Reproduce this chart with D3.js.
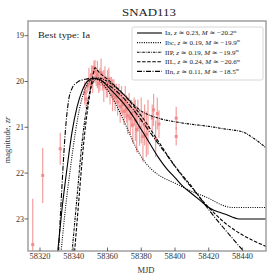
<!DOCTYPE html>
<html>
<head>
<meta charset="utf-8">
<script src="https://cdn.jsdelivr.net/npm/d3@7"></script>
<style>
  body { margin: 0; background: #fff; }
  text { font-family: "Liberation Serif", "DejaVu Serif", serif; }
</style>
</head>
<body>
<div id="chart"></div>
<script>
// observations: MJD, magnitude, error
const obsMjd = [58315.7, 58321.6, 58332.0,
  58346.5, 58347.3, 58348.0, 58349.0, 58349.8, 58350.5, 58351.2, 58352.0, 58352.6, 58353.3,
  58354.0, 58354.8, 58355.5, 58356.2, 58357.0, 58357.8, 58358.5, 58359.3, 58360.0, 58360.8,
  58361.5, 58362.3, 58363.0, 58363.8, 58364.5, 58365.3, 58366.0, 58366.8, 58367.5, 58368.3,
  58369.0, 58369.8, 58370.5, 58371.3, 58372.0, 58372.8, 58373.5, 58374.3, 58375.0, 58375.8,
  58376.5, 58377.3, 58378.0, 58379.0, 58380.0, 58381.0, 58382.0, 58383.0, 58384.0,
  58386.5, 58387.3, 58388.5, 58389.5, 58390.5, 58400.7, 58400.7];
const obsMag = [23.56, 22.05, 21.47,
  20.25, 20.38, 20.10, 19.95, 20.05, 19.85, 19.95, 19.70, 19.78, 19.90,
  19.85, 20.05, 19.95, 19.80, 20.00, 20.10, 19.92, 20.15, 20.05, 19.95,
  20.20, 20.10, 20.30, 20.20, 20.35, 20.25, 20.45, 20.30, 20.55, 20.40,
  20.50, 20.65, 20.45, 20.60, 20.75, 20.55, 20.80, 20.70, 20.95, 20.65,
  20.85, 21.05, 20.75, 21.00, 20.85, 21.20, 20.95, 21.15, 21.00,
  20.80, 20.62, 21.25, 20.70, 20.93, 20.80, 21.20];
const obsErr = [1.0, 0.6, 0.35,
  0.25, 0.2, 0.15, 0.25, 0.2, 0.2, 0.3, 0.15, 0.25, 0.2,
  0.3, 0.2, 0.25, 0.3, 0.2, 0.35, 0.25, 0.2, 0.3, 0.25,
  0.3, 0.2, 0.35, 0.25, 0.3, 0.2, 0.3, 0.25, 0.35, 0.3,
  0.25, 0.3, 0.35, 0.3, 0.4, 0.3, 0.35, 0.3, 0.4, 0.3,
  0.45, 0.5, 0.35, 0.4, 0.5, 0.55, 0.45, 0.5, 0.6,
  0.3, 0.35, 0.4, 0.35, 0.3, 0.25, 0.2];

// model curves
const iaMjd  = [58330.5, 58333, 58336, 58339, 58342, 58345, 58348, 58352, 58356, 58360, 58365, 58370, 58375, 58380, 58385, 58390, 58395, 58400, 58405, 58410, 58415, 58420, 58430, 58438, 58454];
const iaMag  = [23.72, 22.8, 21.9, 21.1, 20.55, 20.2, 20.0, 19.93, 19.97, 20.1, 20.3, 20.5, 20.75, 21.05, 21.35, 21.65, 21.9, 22.1, 22.3, 22.45, 22.6, 22.75, 22.9, 23.0, 23.0];
const ibcMjd = [58332.5, 58335, 58338, 58341, 58344, 58347, 58350, 58353, 58357, 58362, 58367, 58372, 58377, 58382, 58387, 58392, 58400, 58410, 58420, 58428, 58434, 58454];
const ibcMag = [23.72, 22.8, 21.9, 21.1, 20.5, 20.15, 19.98, 19.95, 20.05, 20.3, 20.65, 21.05, 21.45, 21.75, 21.95, 22.08, 22.22, 22.4, 22.55, 22.7, 22.75, 22.75];
const iipMjd = [58339, 58342, 58345, 58348, 58351, 58354, 58360, 58370, 58379, 58390, 58400, 58409, 58420, 58430, 58440, 58447, 58454];
const iipMag = [23.72, 22.5, 21.3, 20.5, 20.05, 19.92, 20.0, 20.3, 20.62, 20.8, 20.88, 20.93, 20.98, 21.04, 21.1, 21.25, 21.45];
const iilMjd = [58340.5, 58343, 58346, 58349, 58351, 58352.6, 58355, 58360, 58370, 58380, 58390, 58400, 58410, 58414, 58420, 58430, 58440, 58454];
const iilMag = [23.72, 22.6, 21.3, 20.4, 19.95, 19.7, 19.8, 19.95, 20.3, 20.75, 21.3, 21.85, 22.3, 22.5, 22.75, 23.1, 23.35, 23.6];
const iinMjd = [58331, 58333, 58335, 58337, 58339, 58342, 58347, 58352, 58357, 58365, 58375, 58385, 58395, 58405, 58414, 58420, 58430, 58441];
const iinMag = [23.72, 22.3, 21.1, 20.4, 20.15, 20.02, 19.95, 19.93, 20.0, 20.2, 20.6, 21.1, 21.6, 22.1, 22.5, 22.8, 23.25, 23.72];

const legendLabels = ["Ia, z ≃ 0.23, M ≃ −20.2", "Ibc, z ≃ 0.19, M ≃ −19.9", "IIP, z ≃ 0.19, M ≃ −19.9",
  "IIL, z ≃ 0.24, M ≃ −20.6", "IIn, z ≃ 0.11, M ≃ −18.5"];
const xTicks = [58320, 58340, 58360, 58380, 58400, 58420, 58440];
const yTicks = [19, 20, 21, 22, 23];

const W = 280, H = 280;
const margin = { top: 21, right: 14, bottom: 29, left: 28 };

const svg = d3.select("#chart").append("svg")
  .attr("width", W)
  .attr("height", H);

const x = d3.scaleLinear()
  .domain([58312.9, 58453.9])
  .range([margin.left, W - margin.right]);

const y = d3.scaleLinear()
  .domain([18.68, 23.70])
  .range([margin.top, H - margin.bottom]);

svg.append("defs").append("clipPath").attr("id", "clip")
  .append("rect")
  .attr("x", margin.left).attr("y", margin.top)
  .attr("width", W - margin.left - margin.right)
  .attr("height", H - margin.top - margin.bottom);

const plot = svg.append("g").attr("clip-path", "url(#clip)");

// observations
const obs = obsMjd.map((m, i) => ({ mjd: m, mag: obsMag[i], err: obsErr[i] }));
const red = "#f08080";

plot.selectAll(".err")
  .data(obs)
  .enter()
  .append("line")
  .attr("x1", d => x(d.mjd)).attr("x2", d => x(d.mjd))
  .attr("y1", d => y(d.mag - d.err)).attr("y2", d => y(d.mag + d.err))
  .attr("stroke", red).attr("stroke-width", 1.2).attr("opacity", 0.75);

plot.selectAll(".pt")
  .data(obs)
  .enter()
  .append("rect")
  .attr("x", d => x(d.mjd) - 1.5).attr("y", d => y(d.mag) - 1.5)
  .attr("width", 3).attr("height", 3)
  .attr("fill", red).attr("opacity", 0.85);

// models
const models = [
  { mjd: iaMjd, mag: iaMag, dash: null },
  { mjd: ibcMjd, mag: ibcMag, dash: "1,1.3" },
  { mjd: iipMjd, mag: iipMag, dash: "2.5,1,0.8,1" },
  { mjd: iilMjd, mag: iilMag, dash: "3.5,1.6" },
  { mjd: iinMjd, mag: iinMag, dash: "5,1.5,1,1.5" }
];

const line = d3.line()
  .x(d => x(d[0]))
  .y(d => y(d[1]))
  .curve(d3.curveMonotoneX);

models.forEach(m => {
  plot.append("path")
    .datum(m.mjd.map((v, i) => [v, m.mag[i]]))
    .attr("d", line)
    .attr("fill", "none")
    .attr("stroke", "#000")
    .attr("stroke-width", 1.1)
    .attr("stroke-dasharray", m.dash);
});

// axes
const spine = "#a0a0a0";
svg.append("rect")
  .attr("x", margin.left).attr("y", margin.top)
  .attr("width", W - margin.left - margin.right)
  .attr("height", H - margin.top - margin.bottom)
  .attr("fill", "none").attr("stroke", spine).attr("stroke-width", 1.5);

const yAxis = svg.append("g");
yTicks.forEach(t => {
  yAxis.append("line")
    .attr("x1", margin.left - 3.5).attr("x2", margin.left)
    .attr("y1", y(t)).attr("y2", y(t))
    .attr("stroke", "#444").attr("stroke-width", 0.8);
  yAxis.append("text")
    .attr("x", margin.left - 4).attr("y", y(t) + 2.8)
    .attr("text-anchor", "end")
    .attr("font-size", 8).attr("fill", "#333")
    .text(t);
});

const xAxis = svg.append("g");
xTicks.forEach(t => {
  xAxis.append("line")
    .attr("x1", x(t)).attr("x2", x(t))
    .attr("y1", H - margin.bottom - 3.5).attr("y2", H - margin.bottom)
    .attr("stroke", "#444").attr("stroke-width", 0.8);
  xAxis.append("text")
    .attr("x", x(t)).attr("y", H - margin.bottom + 8)
    .attr("text-anchor", "middle")
    .attr("font-size", 7.5).attr("fill", "#333")
    .attr("textLength", 21).attr("lengthAdjust", "spacingAndGlyphs")
    .text(t);
});

svg.append("text")
  .attr("x", 146).attr("y", 272.5)
  .attr("text-anchor", "middle")
  .attr("font-size", 8.5).attr("fill", "#333")
  .text("MJD");

const yl = svg.append("text")
  .attr("transform", "translate(9.5,140) rotate(-90)")
  .attr("text-anchor", "middle")
  .attr("font-size", 8.5).attr("fill", "#333");
yl.append("tspan").text("magnitude, ");
yl.append("tspan").attr("font-style", "italic").text("zr");

svg.append("text")
  .attr("x", 149).attr("y", 15.5)
  .attr("text-anchor", "middle")
  .attr("font-size", 10.5).attr("fill", "#222")
  .attr("textLength", 54).attr("lengthAdjust", "spacingAndGlyphs")
  .text("SNAD113");

svg.append("text")
  .attr("x", 38).attr("y", 37.5)
  .attr("font-size", 8.5).attr("fill", "#222")
  .attr("textLength", 52).attr("lengthAdjust", "spacingAndGlyphs")
  .text("Best type: Ia");

// legend
const lg = svg.append("g");
lg.append("rect")
  .attr("x", 132).attr("y", 27)
  .attr("width", 131).attr("height", 53)
  .attr("rx", 1.5)
  .attr("fill", "#fff").attr("fill-opacity", 0.85)
  .attr("stroke", "#ccc").attr("stroke-width", 0.8);

legendLabels.forEach((lab, i) => {
  const ly = 33 + i * 9.6;
  lg.append("line")
    .attr("x1", 137).attr("x2", 162)
    .attr("y1", ly).attr("y2", ly)
    .attr("stroke", "#000").attr("stroke-width", 1.1)
    .attr("stroke-dasharray", models[i].dash);
  const parts = lab.split(/(z|M)/);
  const t = lg.append("text")
    .attr("x", 165).attr("y", ly + 2.4)
    .attr("font-size", 7).attr("fill", "#222");
  parts.forEach(p => {
    const s = t.append("tspan").text(p);
    if (p === "z" || p === "M") s.attr("font-style", "italic");
  });
  t.append("tspan").attr("font-size", 4.2).attr("dy", -2.6).text("m");
});
</script>
</body>
</html>
